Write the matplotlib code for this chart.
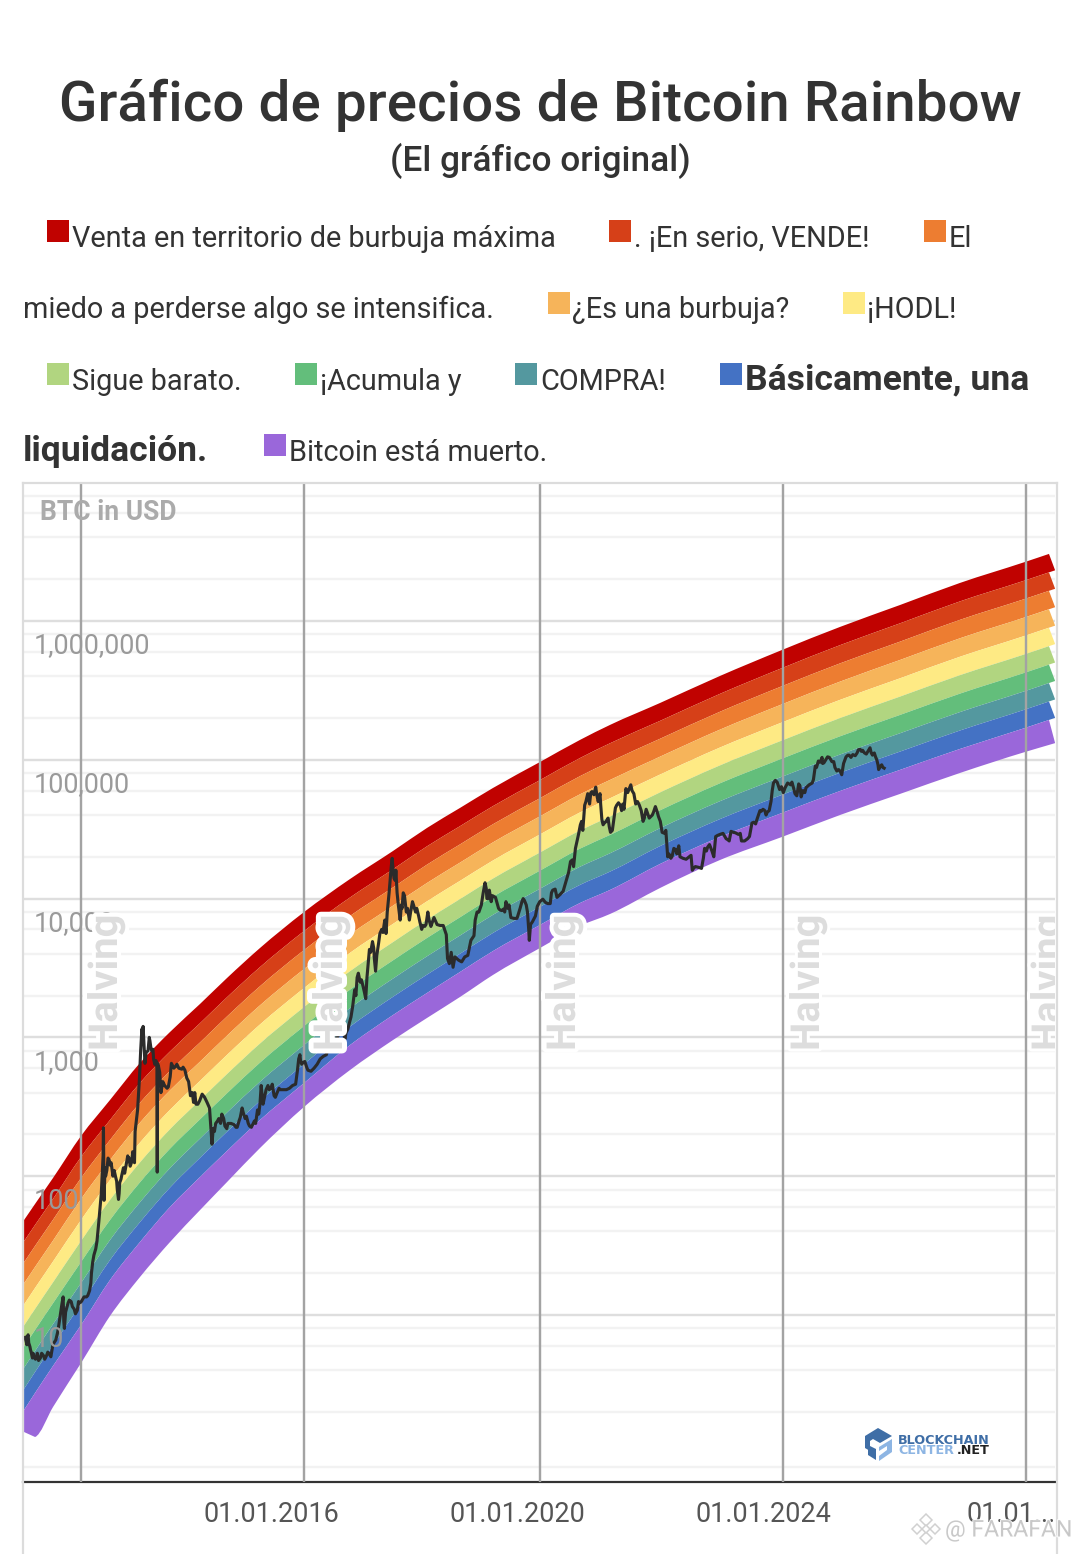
import numpy as np
import matplotlib
matplotlib.use("Agg")
import matplotlib.pyplot as plt
import matplotlib.patheffects as pe
import matplotlib.ticker as mticker
from matplotlib.lines import Line2D
from matplotlib.patches import Polygon, Rectangle, PathPatch
from matplotlib.path import Path

# ---------- data ----------
band_years = [2011.984, 2012.163, 2012.455, 2012.911, 2013.382, 2013.870, 2014.358, 2014.846, 2015.285,
              2015.821, 2016.537, 2017.285, 2017.984, 2018.537, 2019.073, 2019.610, 2020.374, 2021.024,
              2021.512, 2022.325, 2023.301, 2024.309, 2025.252, 2026.228, 2027.203, 2028.260, 2028.650]
band_top_log10 = [1.684, 1.800, 1.987, 2.290, 2.549, 2.816, 3.039, 3.241, 3.428,
                  3.644, 3.903, 4.141, 4.343, 4.509, 4.653, 4.797, 4.984, 5.143,
                  5.251, 5.409, 5.604, 5.791, 5.957, 6.115, 6.274, 6.425, 6.483]
purple_top_log10 = [0.316, 0.438, 0.633, 0.928, 1.252, 1.526, 1.778, 1.994, 2.182,
                    2.405, 2.671, 2.945, 3.161, 3.320, 3.471, 3.622, 3.810, 3.968,
                    4.062, 4.249, 4.444, 4.617, 4.775, 4.927, 5.078, 5.229, 5.287]
purple_bottom_log10 = [0.157, 0.121, 0.337, 0.654, 0.993, 1.274, 1.526, 1.756, 1.958,
                       2.203, 2.499, 2.765, 2.981, 3.140, 3.291, 3.450, 3.644, 3.803,
                       3.889, 4.076, 4.278, 4.444, 4.602, 4.754, 4.905, 5.056, 5.107]
band_colors = ['#c00200', '#d64018', '#ed7d31', '#f6b45a', '#feea84',
               '#b1d580', '#63be7b', '#54989f', '#4472c4', '#9a67da']

btc_years = [2012.00, 2012.02, 2012.04, 2012.06, 2012.08, 2012.10, 2012.12, 2012.14, 2012.17, 2012.20,
             2012.25, 2012.30, 2012.35, 2012.40, 2012.45, 2012.50, 2012.53, 2012.58, 2012.62, 2012.64,
             2012.66, 2012.70, 2012.75, 2012.80, 2012.85, 2012.88, 2012.91, 2012.96, 2013.00, 2013.05,
             2013.08, 2013.12, 2013.17, 2013.20, 2013.22, 2013.25, 2013.27, 2013.275, 2013.28, 2013.285,
             2013.30, 2013.33, 2013.37, 2013.40, 2013.43, 2013.47, 2013.50, 2013.52, 2013.54, 2013.57,
             2013.60, 2013.65, 2013.69, 2013.73, 2013.77, 2013.79, 2013.83, 2013.86, 2013.88, 2013.90,
             2013.91, 2013.92, 2013.94, 2013.95, 2013.97, 2014.00, 2014.03, 2014.06, 2014.09, 2014.12,
             2014.145, 2014.15, 2014.155, 2014.17, 2014.21, 2014.27, 2014.33, 2014.38, 2014.45, 2014.50,
             2014.60, 2014.66, 2014.72, 2014.78, 2014.84, 2014.92, 2015.00, 2015.04, 2015.06, 2015.10,
             2015.15, 2015.20, 2015.25, 2015.30, 2015.40, 2015.45, 2015.50, 2015.55, 2015.60, 2015.65,
             2015.70, 2015.75, 2015.80, 2015.84, 2015.87, 2015.92, 2015.95, 2016.00, 2016.05, 2016.10,
             2016.15, 2016.20, 2016.30, 2016.40, 2016.45, 2016.47, 2016.50, 2016.55, 2016.60, 2016.70,
             2016.80, 2016.90, 2017.00, 2017.02, 2017.03, 2017.10, 2017.17, 2017.20, 2017.25, 2017.33,
             2017.40, 2017.45, 2017.50, 2017.54, 2017.60, 2017.65, 2017.70, 2017.75, 2017.80, 2017.85,
             2017.87, 2017.92, 2017.97, 2018.00, 2018.05, 2018.10, 2018.15, 2018.20, 2018.25, 2018.30,
             2018.35, 2018.40, 2018.45, 2018.50, 2018.55, 2018.60, 2018.70, 2018.80, 2018.85, 2018.87,
             2018.96, 2018.99, 2019.10, 2019.20, 2019.25, 2019.35, 2019.45, 2019.48, 2019.53, 2019.60,
             2019.70, 2019.80, 2019.82, 2019.90, 2019.95, 2020.00, 2020.10, 2020.15, 2020.20, 2020.22,
             2020.30, 2020.37, 2020.50, 2020.58, 2020.70, 2020.80, 2020.87, 2020.95, 2021.00, 2021.05,
             2021.10, 2021.15, 2021.20, 2021.28, 2021.30, 2021.35, 2021.38, 2021.42, 2021.45, 2021.50,
             2021.55, 2021.60, 2021.65, 2021.70, 2021.77, 2021.85, 2021.90, 2021.93, 2021.99, 2022.05,
             2022.10, 2022.20, 2022.25, 2022.30, 2022.36, 2022.45, 2022.50, 2022.55, 2022.60, 2022.70,
             2022.80, 2022.85, 2022.95, 2023.00, 2023.05, 2023.10, 2023.20, 2023.23, 2023.30, 2023.40,
             2023.45, 2023.48, 2023.60, 2023.65, 2023.75, 2023.82, 2023.90, 2023.95, 2024.00, 2024.05,
             2024.10, 2024.15, 2024.20, 2024.30, 2024.40, 2024.50, 2024.55, 2024.60, 2024.62, 2024.70,
             2024.80, 2024.85, 2024.90, 2024.97, 2025.05, 2025.12, 2025.20, 2025.28, 2025.35, 2025.40,
             2025.50, 2025.55, 2025.65, 2025.74, 2025.78, 2025.85, 2025.88, 2025.95, 2025.97]
btc_prices = [6.9, 6.4, 7.0, 6.3, 5.9, 5.4, 4.9, 5.0, 4.8, 5.3,
              4.9, 5.1, 5.1, 5.2, 6.0, 6.6, 7.5, 10.5, 13.5, 8.0,
              10.5, 12.2, 12.5, 11.0, 10.8, 12.2, 12.4, 13.5, 13.5, 15,
              20, 27, 34, 47, 60, 93, 142, 223, 130, 67,
              115, 110, 130, 125, 100, 100, 80, 68, 90, 100,
              115, 125, 135, 125, 145, 210, 300, 500, 800, 1150,
              1000, 1200, 800, 650, 780, 800, 950, 800, 700, 650,
              600, 107, 650, 620, 400, 450, 440, 650, 620, 600,
              580, 480, 400, 330, 350, 370, 310, 170, 220, 240,
              260, 280, 230, 240, 235, 225, 265, 285, 270, 230,
              235, 240, 280, 450, 330, 420, 450, 430, 380, 400,
              420, 420, 430, 460, 700, 750, 640, 670, 580, 600,
              700, 750, 1000, 1130, 800, 1050, 1280, 970, 1150, 1700,
              2700, 2500, 2300, 1900, 4300, 4900, 3000, 4800, 6000, 7000,
              5600, 11000, 19500, 14000, 11000, 7000, 11000, 8000, 7000, 9500,
              8000, 7500, 6000, 6300, 8000, 6300, 6500, 6400, 5500, 3700,
              3200, 3800, 3500, 3900, 5000, 8000, 11000, 13000, 10000, 10500,
              8500, 8000, 9500, 7300, 7200, 7200, 10000, 9000, 5000, 6500,
              7500, 9500, 9200, 11500, 10700, 13500, 18500, 23000, 29000, 36000,
              47000, 57000, 58000, 63500, 55000, 57000, 37000, 35000, 36000, 33000,
              31000, 45000, 49000, 43000, 62000, 66000, 57000, 48000, 47000, 36000,
              44000, 40000, 46000, 39000, 30000, 20000, 19500, 23000, 21000, 19500,
              20000, 16000, 16800, 16500, 23000, 23500, 20000, 28000, 29000, 27000,
              26000, 30500, 29000, 26000, 27000, 35000, 37000, 43000, 44000, 40000,
              43000, 60000, 71000, 64000, 68000, 62000, 55000, 65000, 54000, 63000,
              68000, 90000, 98000, 94000, 105000, 97000, 83000, 78000, 105000, 108000,
              107000, 118000, 112000, 122000, 108000, 100000, 85000, 88000, 87000]
# further wiggles of the price line, read between the points above
btc_detail_years = [2012.03, 2012.05, 2012.09, 2012.13, 2012.22, 2012.27, 2012.32, 2012.37, 2012.42, 2012.47,
                    2012.55, 2012.60, 2012.63, 2012.68, 2012.72, 2012.77, 2012.82, 2012.87, 2012.93,
                    2013.02, 2013.07, 2013.10, 2013.15, 2013.19, 2013.24, 2013.31, 2013.35, 2013.385, 2013.45,
                    2013.49, 2013.53, 2013.56, 2013.62, 2013.67, 2013.71, 2013.75, 2013.78,
                    2014.02, 2014.045, 2014.08, 2014.11, 2014.13, 2014.19, 2014.24, 2014.31, 2014.36, 2014.42,
                    2014.47, 2014.55, 2014.57, 2014.63, 2014.69, 2014.74, 2014.76, 2014.81, 2014.88, 2014.96,
                    2015.08, 2015.13, 2015.18, 2015.23, 2015.28, 2015.35, 2015.43, 2015.48, 2015.53, 2015.58,
                    2015.63, 2015.68, 2015.73, 2015.78, 2015.82, 2015.86, 2015.90, 2015.97,
                    2016.02, 2016.07, 2016.13, 2016.25, 2016.35, 2016.43, 2016.48, 2016.52, 2016.58, 2016.65,
                    2016.75, 2016.85, 2016.95,
                    2017.06, 2017.08, 2017.13, 2017.15, 2017.19, 2017.22, 2017.28, 2017.30, 2017.36, 2017.38,
                    2017.42, 2017.47, 2017.52, 2017.56, 2017.62, 2017.67, 2017.68, 2017.72, 2017.77, 2017.82,
                    2017.89, 2017.94, 2017.955, 2017.985,
                    2018.02, 2018.03, 2018.07, 2018.12, 2018.13, 2018.17, 2018.22, 2018.27, 2018.32, 2018.37,
                    2018.42, 2018.47, 2018.52, 2018.57, 2018.62, 2018.65, 2018.75, 2018.90, 2018.93,
                    2019.05, 2019.15, 2019.30, 2019.32, 2019.38, 2019.42, 2019.50, 2019.51, 2019.55, 2019.58,
                    2019.65, 2019.72, 2019.75, 2019.78, 2019.85, 2019.87,
                    2020.05, 2020.08, 2020.12, 2020.17, 2020.19, 2020.25, 2020.33, 2020.42, 2020.46, 2020.54,
                    2020.56, 2020.62, 2020.65, 2020.75, 2020.84, 2020.90, 2020.92,
                    2021.03, 2021.07, 2021.12, 2021.18, 2021.22, 2021.25, 2021.32, 2021.36, 2021.40, 2021.48,
                    2021.52, 2021.62, 2021.68, 2021.72, 2021.74, 2021.80, 2021.82, 2021.87, 2021.96,
                    2022.02, 2022.07, 2022.15, 2022.22, 2022.28, 2022.33, 2022.40, 2022.42, 2022.47, 2022.52,
                    2022.58, 2022.63, 2022.65, 2022.75, 2022.83, 2022.87, 2022.90,
                    2023.03, 2023.08, 2023.13, 2023.17, 2023.26, 2023.35, 2023.43, 2023.52, 2023.55, 2023.63,
                    2023.70, 2023.78, 2023.85, 2023.88, 2023.97,
                    2024.03, 2024.07, 2024.13, 2024.17, 2024.23, 2024.27, 2024.33, 2024.36, 2024.45, 2024.47,
                    2024.52, 2024.57, 2024.58, 2024.65, 2024.68, 2024.75, 2024.82, 2024.87, 2024.93, 2024.96, 2024.99,
                    2025.02, 2025.08, 2025.15, 2025.17, 2025.23, 2025.26, 2025.31, 2025.38, 2025.43, 2025.46,
                    2025.53, 2025.58, 2025.60, 2025.62, 2025.68, 2025.71, 2025.76, 2025.81, 2025.83, 2025.87,
                    2025.91, 2025.93]
btc_detail_prices = [6.1, 7.2, 5.6, 5.3, 4.7, 5.3, 4.8, 5.4, 5.0, 6.3,
                     8.5, 12, 9, 11.3, 12.8, 11.5, 10.2, 12.5, 12.8,
                     13.8, 17, 24, 30, 42, 75, 100, 135, 120, 110,
                     92, 75, 95, 105, 140, 118, 150, 125,
                     1000, 850, 820, 640, 680, 560, 480, 430, 520, 600,
                     640, 590, 610, 510, 380, 340, 400, 330, 390, 340,
                     210, 250, 240, 260, 220, 240, 225, 250, 310, 260,
                     240, 225, 250, 300, 330, 360, 380, 420,
                     460, 370, 430, 420, 450, 580, 680, 660, 610, 570,
                     640, 730, 900,
                     900, 1000, 1200, 1150, 1050, 1080, 1300, 1400, 2200, 2000,
                     2900, 2600, 2100, 2700, 4100, 4400, 3700, 3900, 5600, 5700,
                     8000, 14000, 17000, 16000,
                     13500, 16000, 9000, 9000, 8500, 10500, 8500, 8000, 8900, 8500,
                     6800, 6400, 6500, 7000, 6700, 7300, 6400, 3400, 4100,
                     3600, 3800, 5400, 7000, 8000, 9000, 11800, 10000, 11500, 9500,
                     10200, 8300, 8200, 8400, 8500, 9000,
                     8500, 9500, 9700, 8000, 6000, 6800, 8800, 9900, 9400, 9200,
                     11000, 11700, 10200, 11300, 15500, 19000, 17000,
                     34000, 31000, 50000, 48000, 59000, 56000, 50000, 48000, 34000, 38000,
                     30000, 47000, 47000, 48000, 44000, 58000, 61000, 60000, 50000,
                     43000, 38000, 38000, 42000, 42000, 36000, 29500, 31000, 21000, 20000,
                     22500, 24000, 20000, 19200, 20500, 16500, 17000,
                     19500, 22000, 24500, 22000, 28500, 29500, 26500, 30000, 29800, 29500,
                     26000, 28000, 35500, 34500, 42500,
                     43000, 42000, 50000, 68000, 69000, 61000, 58000, 63000, 66000, 69000,
                     57000, 63000, 67000, 60000, 58000, 66000, 72000, 88000, 96000, 104000, 95000,
                     100000, 104000, 97000, 88000, 85000, 82000, 94000, 108000, 104000, 109000,
                     112000, 119000, 115000, 117000, 110000, 116000, 112000, 112000, 105000, 92000,
                     90000, 92000]

halving_years = [2012.91, 2016.53, 2020.37, 2024.32, 2028.27]
major_values = [1e1, 1e2, 1e3, 1e4, 1e5, 1e6]
major_labels = ['10', '100', '1,000', '10,000', '100,000', '1,000,000']
minor_multipliers = [2, 4, 6, 8]
x_tick_years = [2016, 2020, 2024]
x_tick_labels = ['01.01.2016', '01.01.2020', '01.01.2024']

W, H = 1080, 1554
FONT = 'Roboto'
plt.rcParams['font.family'] = [FONT, 'DejaVu Sans']
fig = plt.figure(figsize=(W / 100, H / 100), dpi=100, facecolor='white')
PT = 0.72


def fx(x):
    return x / W


def fy(y):
    return 1 - y / H


L, R, T, B = 23, 1055, 483, 1482
ax = fig.add_axes([fx(L), fy(B), (R - L) / W, (B - T) / H])
ax.set_yscale('log')
ax.set_xlim(2011.967, 2028.748)
ax.set_ylim(10 ** -0.2032, 10 ** 6.994)
for s in ('top', 'left', 'right'):
    ax.spines[s].set_visible(False)
ax.spines['bottom'].set_color('#333333')
ax.spines['bottom'].set_linewidth(2.2 * PT)

ax.set_yticks(major_values)
ax.set_yticklabels([])
minor = [m * 10.0 ** e for e in range(-1, 7) for m in minor_multipliers]
minor = [v for v in minor if 10 ** -0.2 < v < 10 ** 6.99]
ax.set_yticks(minor, minor=True)
ax.yaxis.set_minor_formatter(mticker.NullFormatter())
ax.tick_params(axis='y', which='both', length=0)
ax.grid(True, axis='y', which='major', color='#dedede', lw=2.4 * PT, zorder=0)
ax.grid(True, axis='y', which='minor', color='#f2f2f2', lw=2.4 * PT, zorder=0)
ax.set_axisbelow(True)
ax.set_xticks(x_tick_years)
ax.set_xticklabels(x_tick_labels, fontsize=27 * PT, color='#555555', family=FONT)
ax.tick_params(axis='x', length=0, pad=19 * PT)

# rainbow bands: nine even bands down to the purple band's upper edge, then purple
yrs = np.array(band_years)
top = np.array(band_top_log10)
ptop = np.array(purple_top_log10)
pbot = np.array(purple_bottom_log10)
edges = [top + (ptop - top) * k / 9 for k in range(10)] + [pbot]


def smooth_edge(x, y):
    """Bezier control points of a smooth curve through the read points (first segment straight)."""
    m = np.gradient(y, x)
    verts = [(x[0], y[0]), (x[1], y[1])]
    codes = [Path.MOVETO, Path.LINETO]
    for k in range(1, len(x) - 1):
        h = x[k + 1] - x[k]
        verts += [(x[k] + h / 3, y[k] + m[k] * h / 3),
                  (x[k + 1] - h / 3, y[k + 1] - m[k + 1] * h / 3),
                  (x[k + 1], y[k + 1])]
        codes += [Path.CURVE4] * 3
    return verts, codes


for i, c in enumerate(band_colors):
    up, lo = edges[i], edges[i + 1]
    slope = (lo[-1] - lo[-2]) / (yrs[-1] - yrs[-2])
    v_up, c_up = smooth_edge(yrs, up)
    v_lo, c_lo = smooth_edge(yrs, lo)
    verts = v_up + [(yrs[-1] + 0.10, lo[-1] + slope * 0.10), (yrs[-1], lo[-1])] + v_lo[::-1][1:] + [v_up[0]]
    codes = c_up + [Path.LINETO, Path.LINETO] + c_lo[::-1][:-1] + [Path.CLOSEPOLY]
    verts = [(a, 10.0 ** b) for a, b in verts]
    ax.add_patch(PathPatch(Path(verts, codes), facecolor=c, edgecolor='none', lw=0, zorder=2))

# halving lines
for hy in halving_years:
    ax.axvline(hy, color='#a3a3a3', lw=2.4 * PT, zorder=3)

# price
all_years = np.r_[btc_years, btc_detail_years]
all_prices = np.r_[btc_prices, btc_detail_prices]
order = np.argsort(all_years)
ax.plot(all_years[order], all_prices[order], color='#2b2b2b', lw=3.1 * PT, solid_joinstyle='round', zorder=4)

# y labels
for v, lab in zip(major_values, major_labels):
    ax.annotate(lab, xy=(0, v), xycoords=('axes fraction', 'data'),
                xytext=(11 * PT, -25 * PT), textcoords='offset points',
                va='center', ha='left', fontsize=27 * PT, color='#9a9a9a', zorder=5)
ax.text(fx(40), fy(513), 'BTC in USD', transform=fig.transFigure, fontsize=26.5 * PT,
        fontweight='bold', color='#ababab', va='center', ha='left', zorder=5)
ax.annotate('01.01...', xy=(2028, 0), xycoords=('data', 'axes fraction'),
            xytext=(-42 * PT, -33 * PT), textcoords='offset points', va='center', ha='left',
            fontsize=27 * PT, color='#555555', annotation_clip=False)

# Halving labels
for xc, halo in zip([106, 331, 564, 808, 1049], [4, 5, 4, 3, 3]):
    ax.text(fx(xc), fy(1051), 'Halving', transform=fig.transFigure, rotation=90,
            ha='center', va='bottom', fontsize=40 * PT, fontweight='bold', color='#dddddd',
            clip_on=True, zorder=6,
            path_effects=[pe.withStroke(linewidth=2 * halo * PT, foreground='white')])

# titles
fig.text(0.5, fy(105), 'Gráfico de precios de Bitcoin Rainbow', ha='center', va='center',
         fontsize=56.5 * PT, fontweight='medium', color='#333333')
fig.text(0.5, fy(161), '(El gráfico original)', ha='center', va='center',
         fontsize=35.3 * PT, fontweight='medium', color='#333333')

# legend
legend_swatches = [(47, 220, 0), (609, 220, 1), (924, 220, 2), (548, 292, 3), (843, 292, 4),
                   (47, 363, 5), (295, 363, 6), (515, 363, 7), (720, 363, 8), (264, 434, 9)]
for x, y, i in legend_swatches:
    fig.add_artist(Rectangle((fx(x), fy(y + 22)), 22 / W, 22 / H, transform=fig.transFigure,
                             facecolor=band_colors[i], edgecolor='none'))
legend_text = [(72, 239, 'Venta en territorio de burbuja máxima', 'normal'),
               (634, 239, '. ¡En serio, VENDE!', 'normal'),
               (949, 239, 'El', 'normal'),
               (23, 310, 'miedo a perderse algo se intensifica.', 'normal'),
               (572, 310, '¿Es una burbuja?', 'normal'),
               (867, 310, '¡HODL!', 'normal'),
               (72, 382, 'Sigue barato.', 'normal'),
               (320, 382, '¡Acumula y', 'normal'),
               (540, 382, 'COMPRA!', 'normal'),
               (745, 380, 'Básicamente, una', 'bold'),
               (23, 451, 'liquidación.', 'bold'),
               (289, 453, 'Bitcoin está muerto.', 'normal')]
for x, y, s, w in legend_text:
    fig.text(fx(x), fy(y), s, ha='left', va='center', fontsize=(35.5 if w == 'bold' else 28.9) * PT,
             fontweight=w, color='#333333')

# frame
for xs, ys in [((L, L), (T, H)), ((1057, 1057), (T, H)), ((L, 1057), (T, T))]:
    fig.add_artist(Line2D([fx(a) for a in xs], [fy(b) for b in ys], color='#dcdcdc', lw=2.2 * PT,
                          transform=fig.transFigure))


# logo
def poly(pts, c):
    fig.add_artist(Polygon([(fx(a), fy(b)) for a, b in pts], closed=True, transform=fig.transFigure,
                           facecolor=c, edgecolor='none', zorder=7))


poly([(865, 1436), (878, 1428), (892, 1436), (880, 1443), (873, 1439), (870, 1441), (870, 1451), (865, 1448)], '#3f6ea6')
poly([(879, 1447), (892, 1439), (892, 1452), (879, 1461), (879, 1456), (887, 1450), (887, 1446), (879, 1451)], '#8db5e3')
poly([(868, 1445), (876, 1449), (876, 1460), (868, 1455)], '#3f6ea6')
fig.text(fx(898), fy(1441), 'BLOCKCHAIN', fontsize=12.8 * PT, fontweight='bold', family='DejaVu Sans',
         color='#3f6ea6', va='center', ha='left')
fig.text(fx(898), fy(1451), 'CENTER', fontsize=12.8 * PT, fontweight='bold', family='DejaVu Sans',
         color='#8db5e3', va='center', ha='left')
fig.text(fx(990), fy(1451), '.NET', fontsize=12.8 * PT, fontweight='bold', family='DejaVu Sans',
         color='#222222', va='center', ha='right')

# watermark
fig.text(fx(945), fy(1530), '@ FARAFAN', fontsize=23 * PT, color='#c4c4c4', va='center', ha='left', alpha=0.9,
         zorder=8, path_effects=[pe.withStroke(linewidth=2 * PT, foreground='white')])
cx, cy = 926, 1529
for dx, dy, r in [(0, -9, 6), (-9, 0, 5), (9, 0, 5), (0, 9, 6), (0, 0, 4)]:
    a, b = cx + dx, cy + dy
    fig.add_artist(Polygon([(fx(a), fy(b - r)), (fx(a + r), fy(b)), (fx(a), fy(b + r)), (fx(a - r), fy(b))],
                           closed=True, transform=fig.transFigure, facecolor='white', edgecolor='#d0d0d0',
                           lw=1.5 * PT, zorder=8))

fig.savefig('out.png', dpi=100, facecolor='white')
